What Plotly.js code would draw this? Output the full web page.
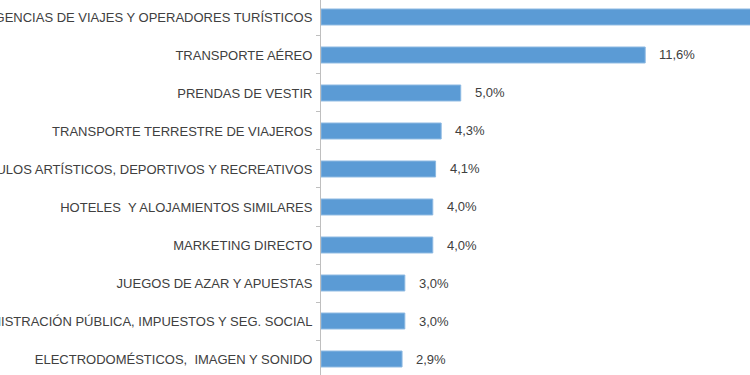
<!DOCTYPE html>
<html>
<head>
<meta charset="utf-8">
<script src="https://cdn.plot.ly/plotly-3.0.1.min.js"></script>
<style>html,body{margin:0;padding:0;background:#fff;}#chart{width:750px;height:375px;}</style>
</head>
<body>
<div id="chart"></div>
<script>
const categories = [
  "AGENCIAS DE VIAJES Y OPERADORES TURÍSTICOS",
  "TRANSPORTE AÉREO",
  "PRENDAS DE VESTIR",
  "TRANSPORTE TERRESTRE DE VIAJEROS",
  "ESPECTÁCULOS ARTÍSTICOS, DEPORTIVOS Y RECREATIVOS",
  "HOTELES  Y ALOJAMIENTOS SIMILARES",
  "MARKETING DIRECTO",
  "JUEGOS DE AZAR Y APUESTAS",
  "ADMINISTRACIÓN PÚBLICA, IMPUESTOS Y SEG. SOCIAL",
  "ELECTRODOMÉSTICOS,  IMAGEN Y SONIDO"
];
const values = [18.0, 11.6, 5.0, 4.3, 4.1, 4.0, 4.0, 3.0, 3.0, 2.9];
const valueLabels = ["18,0%", "11,6%", "5,0%", "4,3%", "4,1%", "4,0%", "4,0%", "3,0%", "3,0%", "2,9%"];

const textColor = "#404040";
const trace = {
  type: "bar",
  orientation: "h",
  x: values,
  y: categories,
  width: 0.42,
  marker: {color: "#5B9BD5", line: {color: "#8DB9E2", width: 1}},
  hoverinfo: "none"
};
const annotations = values.map((v, i) => ({
  x: v, y: categories[i], xref: "x", yref: "y",
  text: valueLabels[i], showarrow: false, xanchor: "left", yanchor: "middle",
  xshift: 12, font: {family: "Liberation Sans, Arial, sans-serif", size: 13, color: textColor}
}));
const layout = {
  width: 750, height: 375,
  margin: {l: 321, r: 0, t: 0, b: 0, pad: 0},
  paper_bgcolor: "#fff", plot_bgcolor: "#fff",
  showlegend: false,
  font: {family: "Liberation Sans, Arial, sans-serif", size: 13, color: textColor},
  xaxis: {range: [0, 15.35], visible: false, fixedrange: true},
  yaxis: {
    type: "category",
    categoryorder: "array", categoryarray: categories,
    range: [9.421, -0.447],
    showline: true, linecolor: "#BFBFBF", linewidth: 1,
    ticks: "outside", ticklen: 4, tickcolor: "#BFBFBF", tickson: "boundaries",
    ticklabelstandoff: 5,
    showgrid: false, zeroline: false, automargin: false,
    tickfont: {family: "Liberation Sans, Arial, sans-serif", size: 13, color: textColor}
  },
  annotations: annotations
};
Plotly.newPlot("chart", [trace], layout, {staticPlot: true, displayModeBar: false});
</script>
</body>
</html>
